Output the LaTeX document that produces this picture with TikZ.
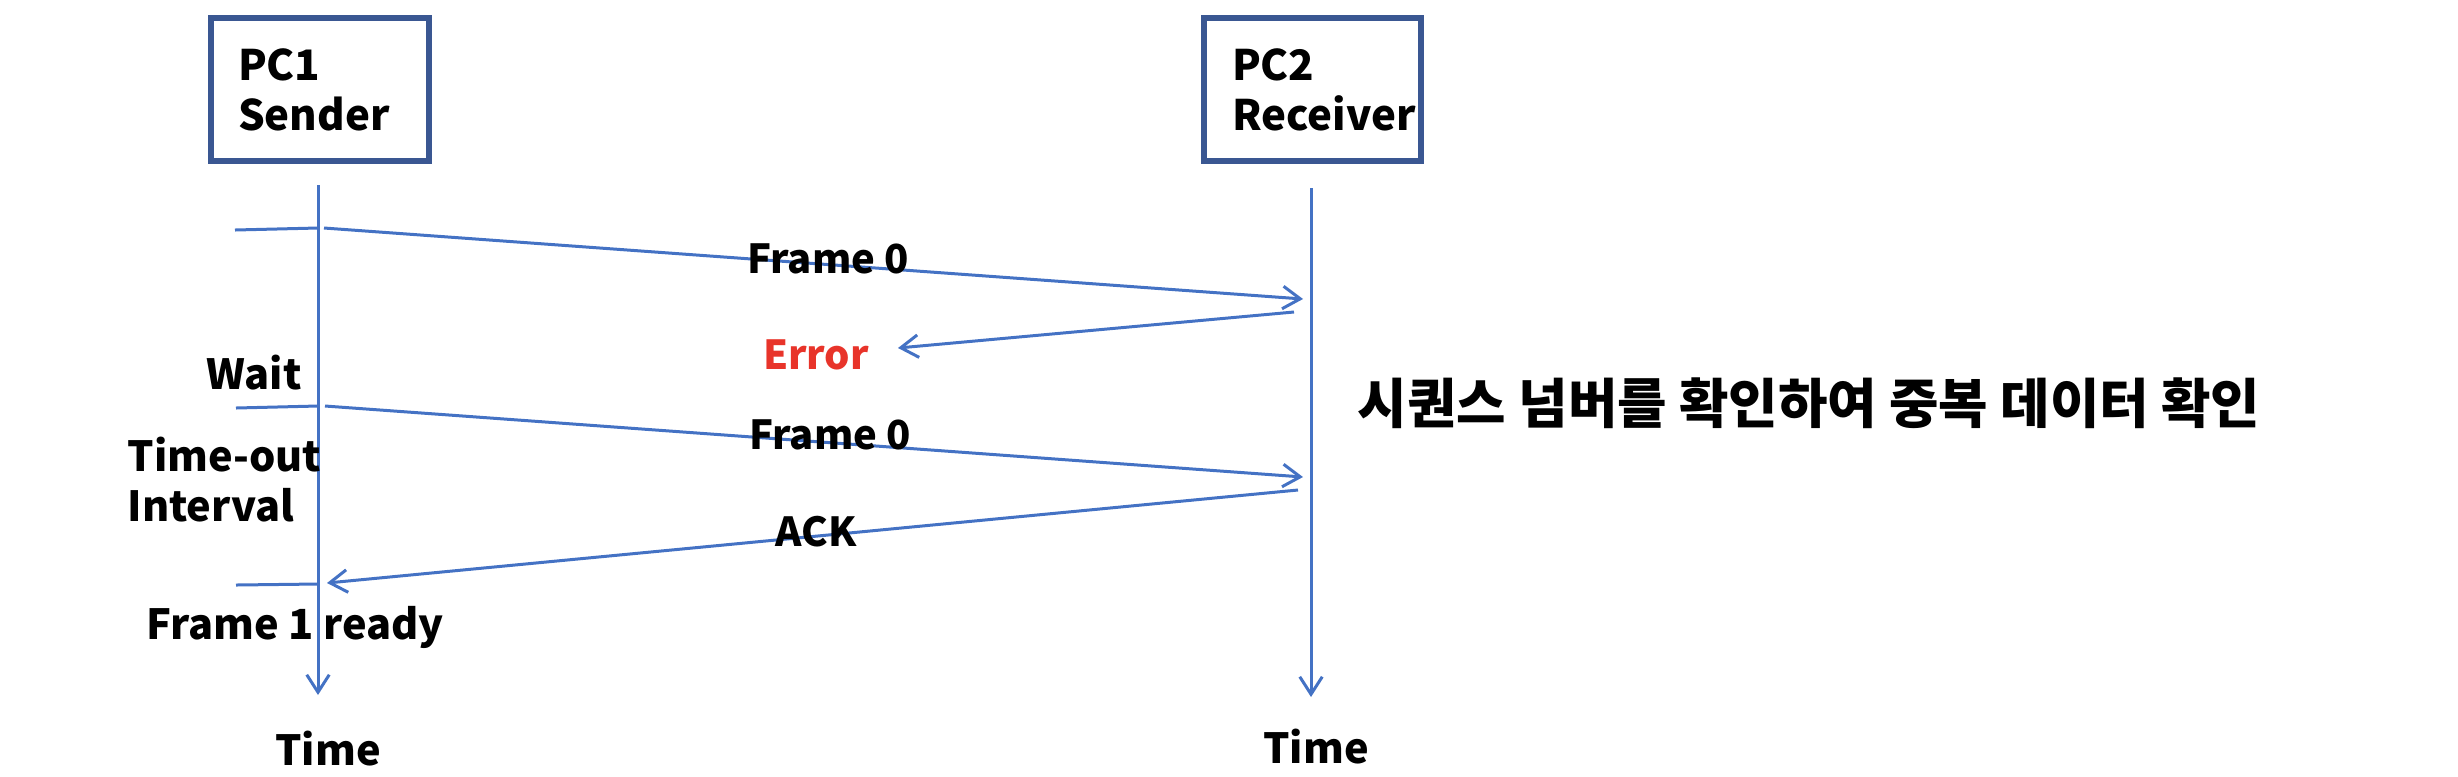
\documentclass[tikz,border=0pt]{standalone}
\usepackage{fontspec}
\setmainfont{Noto Sans CJK KR}
\usetikzlibrary{arrows.meta}
\definecolor{boxblue}{HTML}{3A5792}
\definecolor{lineblue}{HTML}{4472C4}
\definecolor{errred}{HTML}{E8342A}
\tikzset{
  pcbox/.style={draw=boxblue, line width=2.4pt, minimum height=57.2pt, align=left,
    font=\fontsize{16.8pt}{20pt}\selectfont\bfseries, inner ysep=0pt},
  life/.style={draw=lineblue, line width=1.2pt, -{Straight Barb[length=7pt,width=9pt]}},
  msg/.style={draw=lineblue, line width=1.2pt, -{Straight Barb[length=7pt,width=9pt]}},
  tick/.style={draw=lineblue, line width=1.2pt},
  lbl/.style={font=\fontsize{16pt}{20pt}\selectfont\bfseries, inner sep=0pt},
  side/.style={font=\fontsize{16.6pt}{20pt}\selectfont\bfseries, inner sep=0pt, align=left},
}
\begin{document}
\begin{tikzpicture}[x=0.4pt, y=-0.4pt]
\useasboundingbox (0,0) rectangle (2458,776);
% boxes
\node[pcbox, text width=65.6pt, inner xsep=10.8pt] (pc1) at (320,89.5) {PC1\\Sender};
\node[pcbox, text width=64.4pt, inner xsep=11.2pt] (pc2) at (1312.5,89.5) {PC2\\Receiver};
% lifeline coordinates
\coordinate (l1s) at (318,185);
\coordinate (l1e) at (318,695);
\coordinate (l2s) at (1311,188);
\coordinate (l2e) at (1311,697);
\draw[life] (l1s) -- (l1e);
\draw[life] (l2s) -- (l2e);
% ticks
\coordinate (t1a) at (235,230); \coordinate (t1b) at (318,228);
\coordinate (t2a) at (236,408); \coordinate (t2b) at (318,406);
\coordinate (t3a) at (236,585); \coordinate (t3b) at (318,584);
\draw[tick] (t1a) -- (t1b);
\draw[tick] (t2a) -- (t2b);
\draw[tick] (t3a) -- (t3b);
% messages
\coordinate (f1s) at (324,228); \coordinate (f1e) at (1303,299);
\coordinate (ers) at (1294,312); \coordinate (ere) at (898,348);
\coordinate (f2s) at (325,406); \coordinate (f2e) at (1303,477);
\coordinate (aks) at (1298,490); \coordinate (ake) at (327,583);
\draw[msg] (f1s) -- (f1e);
\draw[msg] (ers) -- (ere);
\draw[msg] (f2s) -- (f2e);
\draw[msg] (aks) -- (ake);
% labels
\node[lbl] (lf1) at (828,259) {Frame 0};
\node[lbl, text=errred] (lerr) at (816,355) {Error};
\node[lbl] (lf2) at (830,435) {Frame 0};
\node[lbl] (lack) at (816,532) {ACK};
\node[side] (lwait) at (254,373) {Wait};
\node[side, anchor=west] (lto) at (127,480) {Time-out\\Interval};
\node[side] (lready) at (295,627) {Frame 1 ready};
\node[side] (ltime1) at (328,749) {Time};
\node[side] (ltime2) at (1316,747) {Time};
\node[font=\fontsize{21.5pt}{24pt}\selectfont\bfseries, inner sep=0pt] (lkr) at (1809,403) {시퀀스 넘버를 확인하여 중복 데이터 확인};
\end{tikzpicture}
\end{document}
